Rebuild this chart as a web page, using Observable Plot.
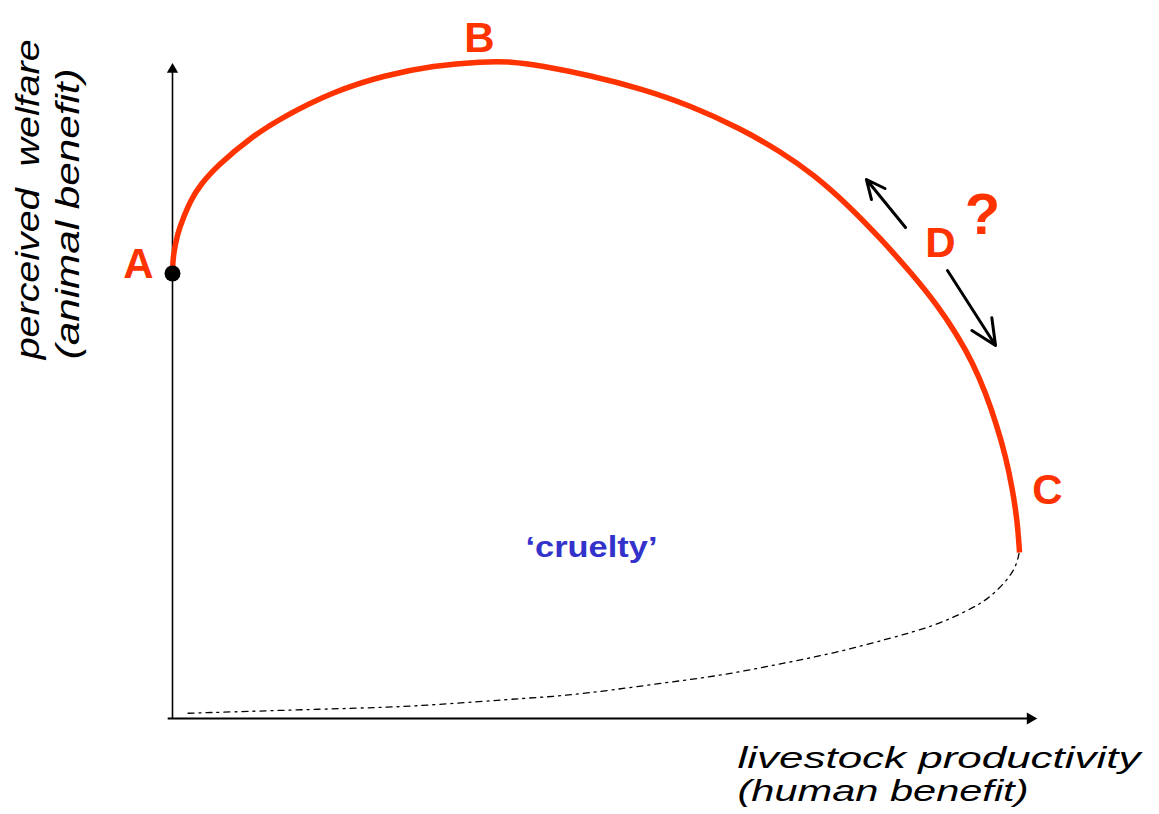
<!DOCTYPE html>
<html>
<head>
<meta charset="utf-8">
<script src="https://cdn.jsdelivr.net/npm/d3@7"></script>
<script src="https://cdn.jsdelivr.net/npm/@observablehq/plot@0.6"></script>
<style>
  html, body { margin: 0; padding: 0; background: #fff; }
  svg { display: block; }
</style>
</head>
<body>
<div id="chart"></div>
<script>
// ---- data (productivity on x, perceived welfare on y; arbitrary units 0-10) ----
const curveX = [0.000, 0.006, 0.058, 0.127, 0.209, 0.324, 0.521, 0.904, 1.286, 1.866, 2.445, 3.024, 3.604, 3.917, 4.264, 4.844, 5.423, 6.002, 6.582, 7.045, 7.428, 7.822, 8.204, 8.586, 8.864, 9.096, 9.270, 9.421, 9.548, 9.652, 9.733, 9.791, 9.815];
const curveY = [6.830, 7.090, 7.427, 7.672, 7.933, 8.178, 8.469, 8.897, 9.219, 9.602, 9.847, 10.000, 10.061, 10.061, 10.000, 9.847, 9.648, 9.387, 9.035, 8.683, 8.331, 7.871, 7.351, 6.784, 6.325, 5.865, 5.452, 4.992, 4.502, 4.028, 3.522, 3.002, 2.542];

const crueltyX = [9.81, 9.76, 9.47, 9.24, 8.84, 8.32, 7.67, 7.02, 6.37, 5.72, 5.06, 4.55, 4.09, 3.57, 2.92, 2.47, 1.88, 0.17];
const crueltyY = [2.53, 2.24, 1.84, 1.67, 1.42, 1.23, 1.00, 0.83, 0.66, 0.55, 0.43, 0.35, 0.31, 0.26, 0.20, 0.17, 0.15, 0.08];

const pointA = {x: 0, y: 6.815};

const pointLabels = ["A", "B", "C", "D"];
const pointLabelX = [-0.394, 3.557, 10.139, 8.899];
const pointLabelY = [6.953, 10.413, 3.492, 7.274];

const questionLabel = "?";
const questionX = 9.386, questionY = 7.703;

const arrowX1 = [8.494, 8.980];
const arrowY1 = [7.519, 6.861];
const arrowX2 = [8.041, 9.537];
const arrowY2 = [8.254, 5.712];

const regionLabel = "\u2018cruelty\u2019";
const regionX = 4.855, regionY = 2.466;

const yTitle = ["perceived  welfare", "(animal benefit)"];
const yTitleX = -1.089, yTitleY = 5.50;

const xTitle = ["livestock productivity", "(human benefit)"];
const xTitleX = 6.547, xTitleY = -1.271;

const xMax = 10, yMax = 10;

// ---- build tables ----
const curve = curveX.map((x, i) => ({x, y: curveY[i]}));
const cruelty = crueltyX.map((x, i) => ({x, y: crueltyY[i]}));
const letters = pointLabels.map((t, i) => ({t, x: pointLabelX[i], y: pointLabelY[i]}));
const arrows = arrowX1.map((x1, i) => ({x1, y1: arrowY1[i], x2: arrowX2[i], y2: arrowY2[i]}));

const RED = "#ff3300";
const FONT = "'Liberation Sans', Arial, Helvetica, sans-serif";

const svg = Plot.plot({
  width: 1159,
  height: 814,
  marginLeft: 172,
  marginRight: 124,
  marginTop: 65,
  marginBottom: 96,
  x: {domain: [0, xMax], axis: null},
  y: {domain: [0, yMax], axis: null},
  style: {background: "#fff", fontFamily: FONT},
  marks: [
    // axes
    Plot.ruleX([0], {y1: 0, y2: yMax - 0.08, stroke: "black", strokeWidth: 1.6}),
    Plot.ruleY([0], {x1: -0.05, x2: xMax - 0.08, stroke: "black", strokeWidth: 2.2}),
    Plot.dot([{x: 0, y: yMax - 0.06}], {x: "x", y: "y", symbol: "triangle", r: 4.2, fill: "black", stroke: "none"}),
    Plot.dot([{x: xMax - 0.06, y: 0}], {x: "x", y: "y", symbol: "triangle", r: 4.5, fill: "black", stroke: "none", rotate: 90}),
    // lower dashed curve
    Plot.line(cruelty, {x: "x", y: "y", curve: "basis", stroke: "black", strokeWidth: 1.3, strokeDasharray: "6,5,2,5"}),
    // main red curve
    Plot.line(curve, {x: "x", y: "y", curve: "basis", stroke: RED, strokeWidth: 5.5, strokeLinecap: "butt"}),
    Plot.dot([pointA], {x: "x", y: "y", r: 8, fill: "black", stroke: "none"}),
    // D arrows
    Plot.arrow(arrows, {x1: "x1", y1: "y1", x2: "x2", y2: "y2", stroke: "black", strokeWidth: 3, headLength: 14, headAngle: 50}),
    // labels
    Plot.text(letters, {x: "x", y: "y", text: "t", fill: RED, fontSize: 42, fontWeight: "bold", textAnchor: "middle", lineAnchor: "middle", fontFamily: FONT}),
    Plot.text([questionLabel], {x: () => questionX, y: () => questionY, text: d => d, fill: RED, fontSize: 58, fontWeight: "bold", textAnchor: "middle", lineAnchor: "middle", fontFamily: FONT}),
    Plot.text([regionLabel], {x: () => regionX, y: () => regionY, text: d => d, fill: "#3333cc", fontSize: 29, fontWeight: "bold", textAnchor: "middle", lineAnchor: "bottom", fontFamily: FONT}),
    Plot.text([yTitle.join("\n")], {x: () => yTitleX, y: () => yTitleY, text: d => d, rotate: -90, textAnchor: "start", lineAnchor: "bottom", lineHeight: 1.21, fontSize: 33, fontStyle: "italic", fill: "black", fontFamily: FONT}),
    Plot.text([xTitle.join("\n")], {x: () => xTitleX, y: () => xTitleY, text: d => d, textAnchor: "start", lineAnchor: "bottom", lineHeight: 1.133, fontSize: 30, fontStyle: "italic", fill: "black", fontFamily: FONT})
  ]
});

// widen the glyphs to the stretched proportions of the original artwork
const textWidths = new Map([
  [yTitle[0], 320], [yTitle[1], 291],
  [xTitle[0], 403], [xTitle[1], 291],
  [regionLabel, 132]
]);
svg.querySelectorAll("text, tspan").forEach(el => {
  if (el.tagName === "text" && el.querySelector("tspan")) return;
  const w = textWidths.get(el.textContent);
  if (w) {
    el.setAttribute("textLength", w);
    el.setAttribute("lengthAdjust", "spacingAndGlyphs");
  }
});

document.getElementById("chart").appendChild(svg);
</script>
</body>
</html>
